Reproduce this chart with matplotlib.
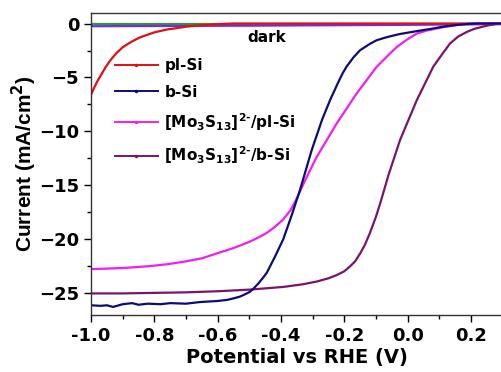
import matplotlib
matplotlib.use("Agg")
import matplotlib.pyplot as plt
from matplotlib.lines import Line2D
from matplotlib.ticker import MultipleLocator, FormatStrFormatter

plt.rcParams['font.family'] = ['DejaVu Sans']
plt.rcParams['font.weight'] = 'bold'
plt.rcParams['mathtext.fontset'] = 'custom'
plt.rcParams['mathtext.rm'] = 'DejaVu Sans:bold'
plt.rcParams['mathtext.bf'] = 'DejaVu Sans:bold'
plt.rcParams['mathtext.it'] = 'DejaVu Sans:bold'

# dark currents
dark_v = [-1.0, -0.5, 0.0, 0.3]
dark_green = [0.0, 0.0, 0.0, 0.0]
dark_violet = [-0.25, -0.2, -0.12, -0.05]

# pl-Si
pl_v = [-1.0, -0.99, -0.98, -0.97, -0.955, -0.94, -0.92, -0.9, -0.87, -0.845, -0.8,
        -0.761, -0.7, -0.656, -0.6, -0.55, 0.3]
pl_i = [-6.6, -5.95, -5.35, -4.85, -4.1, -3.45, -2.75, -2.2, -1.65, -1.28, -0.82,
        -0.56, -0.3, -0.17, -0.07, 0.0, 0.0]

# b-Si
b_v = [-1.0, -0.97, -0.95, -0.93, -0.9, -0.87, -0.85, -0.82, -0.78, -0.75, -0.7,
       -0.656, -0.6, -0.57, -0.55, -0.53, -0.515, -0.498, -0.485, -0.472, -0.458,
       -0.445, -0.419, -0.393, -0.366, -0.34, -0.303, -0.27, -0.245, -0.22, -0.205,
       -0.193, -0.17, -0.15, -0.12, -0.098, -0.07, -0.05, -0.024, 0.0, 0.03, 0.06,
       0.081, 0.11, 0.155, 0.19, 0.22, 0.3]
b_i = [-26.1, -26.15, -26.1, -26.25, -26.0, -25.9, -26.05, -25.95, -26.0, -25.9, -25.95,
       -25.8, -25.7, -25.6, -25.46, -25.3, -25.1, -24.85, -24.5, -24.1, -23.6,
       -23.1, -21.6, -20.0, -17.75, -15.43, -11.73, -8.9, -7.1, -5.5, -4.6,
       -4.0, -3.1, -2.47, -1.9, -1.55, -1.3, -1.15, -0.97, -0.85, -0.7, -0.56,
       -0.46, -0.3, -0.13, -0.04, 0.0, 0.0]

# [Mo3S13]2-/pl-Si
mpl_v = [-1.0, -0.95, -0.9, -0.85, -0.814, -0.76, -0.708, -0.65, -0.603, -0.55,
         -0.498, -0.47, -0.445, -0.42, -0.393, -0.37, -0.35, -0.32, -0.287, -0.224,
         -0.161, -0.098, -0.06, -0.034, 0.0, 0.029, 0.06, 0.092, 0.12, 0.155, 0.19,
         0.21, 0.3]
mpl_i = [-22.75, -22.7, -22.65, -22.55, -22.47, -22.3, -22.07, -21.75, -21.3, -20.8,
         -20.2, -19.8, -19.4, -18.85, -18.15, -17.3, -16.2, -14.3, -12.35, -9.26,
         -6.48, -4.02, -2.9, -2.17, -1.45, -0.93, -0.65, -0.46, -0.3, -0.14, -0.03,
         0.0, 0.0]

# [Mo3S13]2-/b-Si
mb_v = [-1.0, -0.9, -0.8, -0.7, -0.6, -0.5, -0.393, -0.33, -0.287, -0.25, -0.224,
        -0.2, -0.182, -0.165, -0.15, -0.135, -0.119, -0.1, -0.087, -0.06, -0.024,
        0.029, 0.081, 0.11, 0.134, 0.16, 0.187, 0.21, 0.239, 0.26, 0.28, 0.3]
mb_i = [-25.0, -25.0, -24.95, -24.9, -24.8, -24.65, -24.4, -24.15, -23.9, -23.6, -23.3,
        -22.95, -22.5, -22.0, -21.3, -20.5, -19.4, -17.9, -16.7, -14.0, -10.8,
        -7.1, -4.0, -2.8, -1.85, -1.2, -0.78, -0.5, -0.28, -0.14, -0.05, 0.0]

labels = ['pl-Si', 'b-Si',
          '$\\left[\\mathrm{Mo_3S_{13}}\\right]^{2\u2010}$/pl-Si',
          '$\\left[\\mathrm{Mo_3S_{13}}\\right]^{2\u2010}$/b-Si']
colors = ['#e01010', '#0c0c78', '#f51cf0', '#781470']

fig = plt.figure(figsize=(5.01, 3.72), dpi=100)
ax = fig.add_axes([0.1816, 0.1532, 0.8216, 0.8126])

ax.plot(dark_v, dark_green, color='#2a9a2a', lw=1.6)
ax.plot(dark_v, dark_violet, color='#7628f0', lw=1.6)
ax.plot(pl_v, pl_i, color=colors[0], lw=1.6)
ax.plot(mb_v, mb_i, color=colors[3], lw=1.6)
ax.plot(mpl_v, mpl_i, color=colors[2], lw=1.6)
ax.plot(b_v, b_i, color=colors[1], lw=1.6)

ax.set_xlim(-1.0, 0.3)
ax.set_ylim(-27, 1)
ax.xaxis.set_major_locator(MultipleLocator(0.2))
ax.xaxis.set_minor_locator(MultipleLocator(0.1))
ax.yaxis.set_major_locator(MultipleLocator(5))
ax.yaxis.set_minor_locator(MultipleLocator(2.5))
ax.xaxis.set_major_formatter(FormatStrFormatter('%.1f'))
ax.tick_params(which='major', length=5, width=1, labelsize=13)
ax.tick_params(which='minor', length=3, width=1)
for s in ax.spines.values():
    s.set_linewidth(1)
    s.set_color('#333333')

ax.set_xlabel('Potential vs RHE (V)', fontsize=14, fontweight='bold', labelpad=2)
ax.set_ylabel('Current (mA/cm$^2$)', fontsize=15, fontweight='bold', labelpad=0,
              family='Liberation Sans')

ax.text(-0.507, -1.25, 'dark', fontsize=11, fontweight='bold', va='center', ha='left')

handles = [Line2D([], [], color=c, lw=1.4, marker='.', ms=3) for c in colors]
ax.legend(handles, labels, loc='upper left', bbox_to_anchor=(0.043, 0.87),
          frameon=False, fontsize=11, handlelength=2.8, handletextpad=0.45,
          labelspacing=0.75, numpoints=1, borderaxespad=0)

fig.savefig('out.png', dpi=100)
